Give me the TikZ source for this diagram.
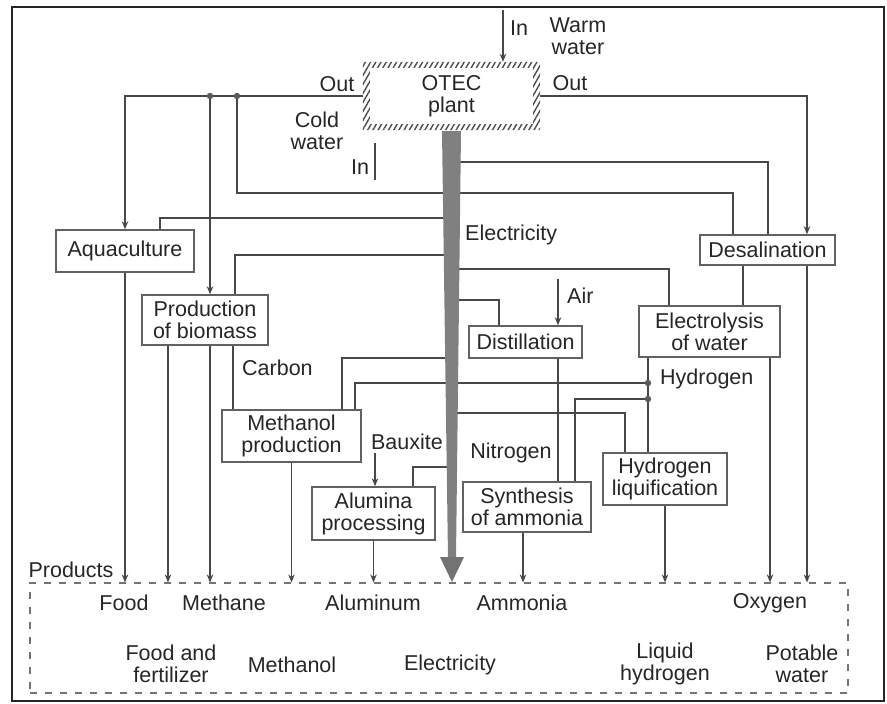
\documentclass[tikz,border=0pt]{standalone}
\usepackage{fontspec}
\setmainfont{Liberation Sans}
\usetikzlibrary{arrows.meta,patterns.meta}
\pgfdeclarelayer{bg}
\pgfsetlayers{bg,main}
\newcommand\fsz{\fontsize{21.5}{22}\selectfont}
\begin{document}
\begin{tikzpicture}[x=1pt,y=-1pt,
 ln/.style={draw=black!72,line width=1.6pt},
 arr/.style={ln,-{Stealth[length=8pt,width=6.5pt]}},
 box/.style={draw=black!62,line width=1.5pt,fill=white,inner sep=0pt,align=center,font=\fsz,text=black!85},
 lbl/.style={inner sep=0pt,align=center,font=\fsz,text=black!85},
 dot/.style={fill=black!65}]
\useasboundingbox (0,0) rectangle (887,704);
\draw[line width=2.5pt,black!85] (12,7) rectangle (884,701);

% boxes
\node[lbl,minimum width=177pt,minimum height=68pt] (otec) at (451.5,96) {OTEC\\plant};
\node[box,minimum width=138pt,minimum height=42pt] (aqua) at (125,251) {Aquaculture};
\node[box,minimum width=126pt,minimum height=50pt] (bio) at (205,320) {Production\\of biomass};
\node[box,minimum width=135pt,minimum height=30pt] (desal) at (767.5,250) {Desalination};
\node[box,minimum width=113pt,minimum height=32pt] (distil) at (525.5,342) {Distillation};
\node[box,minimum width=141pt,minimum height=51pt] (electro) at (709.5,331.5) {Electrolysis\\of water};
\node[box,minimum width=139pt,minimum height=52pt] (methanol) at (291.5,436) {Methanol\\production};
\node[box,minimum width=123pt,minimum height=53pt] (alumina) at (373.5,513.5) {Alumina\\processing};
\node[box,minimum width=128pt,minimum height=50pt] (ammonia) at (527,507) {Synthesis\\of ammonia};
\node[box,minimum width=124pt,minimum height=52pt] (hliq) at (665,479) {Hydrogen\\liquification};
\node[draw=black!55,line width=1.2pt,dash pattern=on 7pt off 8pt,minimum width=818pt,minimum height=110pt,inner sep=0pt] (prod) at (439,638) {};

% hatched border of the OTEC plant
\fill[pattern={Lines[angle=60,distance=4.5pt,line width=1.4pt]},pattern color=black!70,even odd rule]
 (otec.south west) rectangle (otec.north east)
 ([shift={(7,-6)}]otec.south west) rectangle ([shift={(-7,6)}]otec.north east);

\begin{pgfonlayer}{bg}
% warm water
\coordinate (ww) at (503,10);
\draw[arr] (ww) -- (ww |- otec.north);
% cold water in
\coordinate (ci1) at (375,143); \coordinate (ci2) at (375,180);
\draw[ln] (ci1) -- (ci2);
% cold water out
\coordinate (j1) at (210,96); \coordinate (j2) at (237,96);
\draw[arr] (otec.west) -| (aqua.north);
\draw[arr] (j1) -- (j1 |- bio.north);
\draw[arr] (bio.south -| j1) -- (j1 |- prod.north);
\coordinate (xA) at (733,193);
\draw[ln] (j2) |- (xA) -- (xA |- desal.north);
% warm water out
\coordinate (xP) at (807,96);
\draw[arr] (otec.east) -| (desal.north -| xP);
\draw[arr] (desal.south -| xP) -- (xP |- prod.north);
% electricity
\coordinate (e1) at (452,162); \coordinate (xB) at (768,162);
\draw[ln] (e1) -- (xB) -- (xB |- desal.north);
\coordinate (e2) at (452,218); \coordinate (ea) at (160,218);
\draw[ln] (e2) -- (ea) -- (ea |- aqua.north);
\coordinate (e3) at (452,255); \coordinate (eb) at (235,255);
\draw[ln] (e3) -- (eb) -- (eb |- bio.north);
\coordinate (e4) at (452,269); \coordinate (ec) at (669,269);
\draw[ln] (e4) -- (ec) -- (ec |- electro.north);
\coordinate (e5) at (452,300); \coordinate (ed) at (499,300);
\draw[ln] (e5) -- (ed) -- (ed |- distil.north);
\coordinate (e6) at (452,358); \coordinate (ee) at (342,358);
\draw[ln] (e6) -- (ee) -- (ee |- methanol.north);
\coordinate (e7) at (452,413); \coordinate (ef) at (625,413);
\draw[ln] (e7) -- (ef) -- (ef |- hliq.north);
\coordinate (e8) at (452,467); \coordinate (eg) at (413,467);
\draw[ln] (e8) -- (eg) -- (eg |- alumina.north);
% hydrogen
\coordinate (h1) at (648,383); \coordinate (h2) at (648,399);
\draw[ln] (electro.south -| h1) -- (h1 |- hliq.north);
\coordinate (hm) at (355,383);
\draw[ln] (h1) -- (hm) -- (hm |- methanol.north);
\coordinate (ha) at (575,399);
\draw[ln] (h2) -- (ha) -- (ha |- ammonia.north);
% air and nitrogen
\coordinate (air) at (558,279);
\draw[arr] (air) -- (air |- distil.north);
\draw[ln] (distil.south -| air) -- (air |- ammonia.north);
% desalination to electrolysis
\coordinate (xD) at (743,265);
\draw[ln] (desal.south -| xD) -- (xD |- electro.north);
% oxygen
\coordinate (xO) at (770,357);
\draw[arr] (electro.south -| xO) -- (xO |- prod.north);
% biomass
\coordinate (xC) at (233,345);
\draw[ln] (bio.south -| xC) -- (xC |- methanol.north);
\coordinate (xF) at (168,345);
\draw[arr] (bio.south -| xF) -- (xF |- prod.north);
\draw[arr] (aqua.south) -- (aqua.south |- prod.north);
\draw[arr] (methanol.south) -- (methanol.south |- prod.north);
% bauxite
\coordinate (bx) at (375,453);
\draw[arr] (bx) -- (bx |- alumina.north);
\draw[arr] (alumina.south) -- (alumina.south |- prod.north);
\coordinate (xAm) at (523,532);
\draw[arr] (ammonia.south -| xAm) -- (xAm |- prod.north);
\draw[arr] (hliq.south) -- (hliq.south |- prod.north);
\end{pgfonlayer}

% junction dots
\foreach \p in {j1,j2,h1,h2} \fill[dot] (\p) circle[radius=3.2pt];

% electricity bar
\fill[black!50] (442,131) -- (461,131) -- (456,558) -- (448,558) -- cycle;
\fill[black!55] (440,557) -- (464,557) -- (452,582) -- cycle;

% labels
\node[lbl] (lin) at (519,28) {In};
\node[lbl] (lww) at (578,36) {Warm\\water};
\node[lbl] (lcw) at (317,131) {Cold\\water};
\node[lbl] (lcin) at (360,167) {In};
\node[lbl] (lout1) at (337,84) {Out};
\node[lbl] (lout2) at (570,83) {Out};
\node[lbl,anchor=west] (lel) at (465,235) {Electricity};
\node[lbl,anchor=west] (lair) at (567,296) {Air};
\node[lbl,anchor=west] (lcarb) at (242,368) {Carbon};
\node[lbl,anchor=west] (lh) at (660,379) {Hydrogen};
\node[lbl] (lbaux) at (407,442) {Bauxite};
\node[lbl] (lnit) at (511,453) {Nitrogen};
\node[lbl] (lprod) at (71,570) {Products};

% products
\node[lbl] (pfood) at (124,603) {Food};
\node[lbl] (pmeth) at (224,603) {Methane};
\node[lbl] (palu) at (373,603) {Aluminum};
\node[lbl] (pamm) at (522,603) {Ammonia};
\node[lbl] (poxy) at (770,603) {Oxygen};
\node[lbl] (pff) at (171,664) {Food and\\fertilizer};
\node[lbl] (pmol) at (292,665) {Methanol};
\node[lbl] (pel) at (450,665) {Electricity};
\node[lbl] (plh) at (665,664) {Liquid\\hydrogen};
\node[lbl] (ppw) at (802,664) {Potable\\water};
\end{tikzpicture}
\end{document}
